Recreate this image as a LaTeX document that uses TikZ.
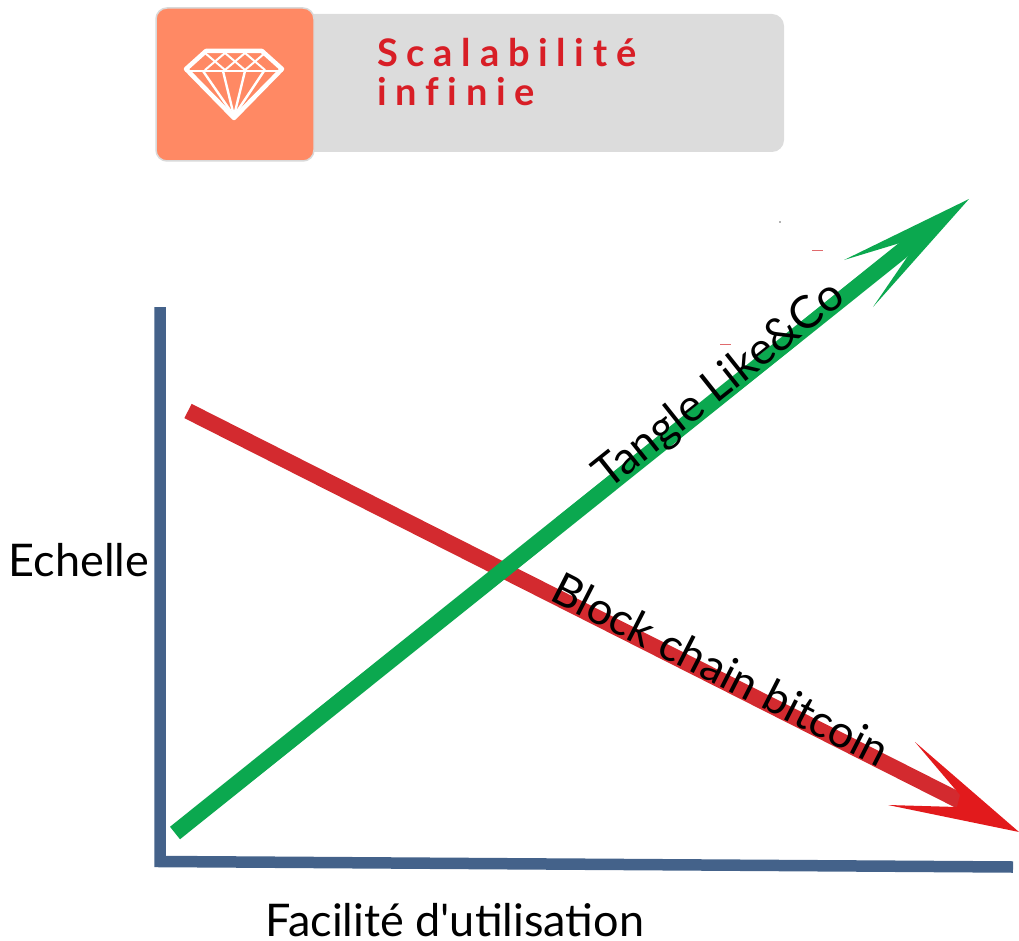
\documentclass[tikz,border=0pt]{standalone}
\usepackage{fontspec}
\newfontfamily\labelfont{Lato}
\newfontfamily\bannerfont[LetterSpace=23,Ligatures=NoCommon]{Lato}
\definecolor{axisblue}{HTML}{44628A}
\definecolor{tanglegreen}{HTML}{0BA84F}
\definecolor{chainred}{HTML}{D32A2F}
\definecolor{headred}{HTML}{E21A1C}
\definecolor{badgeorange}{HTML}{FF8964}
\definecolor{bannergray}{HTML}{DCDCDC}
\definecolor{bannerred}{HTML}{D81E26}

\begin{document}
\begin{tikzpicture}[x=1pt,y=-1pt]
    \tikzstyle{axis}=[draw=axisblue,line width=11.5pt,line join=miter]
    \tikzstyle{shaft}=[line width=16pt]
    \tikzstyle{label}=[inner sep=0pt,font=\labelfont\fontsize{45}{49}\selectfont]
    \tikzstyle{gem}=[draw=white,line width=2.4pt,line join=round,line cap=round]
    \tikzstyle{speck}=[draw=chainred!70,line width=1pt]

    \useasboundingbox (0,0) rectangle (1019,941);

    % Draw the banner and its badge
    \fill[bannergray,rounded corners=12pt] (290,14) rectangle (784,152);
    \node[draw=black!15,line width=1.5pt,fill=badgeorange,rounded corners=11pt,
        minimum width=158pt,minimum height=153pt,inner sep=0pt] (badge) at (235,84.5) {};
    \node[anchor=north west,inner sep=0pt,align=left,text=bannerred,
        font=\bannerfont\bfseries\fontsize{38}{39}\selectfont] (title) at (377,38)
        {Scalabilité\\infinie};

    % Draw the gem on the badge
    \draw[gem,line width=4.5pt] (206,51) -- (262,51) -- (282,69) -- (234,118) -- (186,69) -- cycle;
    \draw[gem] (186,71) -- (282,71);
    \foreach \left / \right in {205/225,225/245,245/265}
    {
        \draw[gem,line width=2pt] (\left,53) -- (\right,70);
        \draw[gem,line width=2pt] (\right,53) -- (\left,70);
    }
    \foreach \x in {203,223,245,264}
        \draw[gem] (\x,71) -- (234,116);

    % Draw the axes
    \coordinate (Y-top) at (160,307);
    \coordinate (origin) at (160,861.5);
    \coordinate (X-end) at (1013,867);
    \draw[axis] (Y-top) -- (origin) -- (X-end);

    % Draw the red line with its head
    \coordinate (R-start) at (188,411);
    \coordinate (R-end) at (962,802);
    \draw[shaft,chainred] (R-start) -- (R-end);
    \fill[headred] (1019,832) -- (915,742) -- (960,795) -- (957,807) -- (888,805) -- cycle;

    % Draw the green line with its head
    \coordinate (G-start) at (175,833);
    \coordinate (G-end) at (908,246);
    \draw[shaft,tanglegreen] (G-start) -- (G-end);
    \fill[tanglegreen] (969,199) -- (873,307) -- (910,253) -- (900,243) -- (844,260) -- cycle;

    % Stray marks above the green line
    \draw[speck] (812,251) -- (823,251);
    \draw[speck] (720,344) -- (731,344);
    \fill[black!60] (780,222) circle (0.8pt);

    % Annotate the lines and the axes
    \node[label,rotate=38.5] (tangle) at (720,386) {Tangle Like\&Co};
    \node[label,rotate=-27] (chain) at (721,669) {Block chain bitcoin};
    \node[label] (echelle) at (79,560) {Echelle};
    \node[label] (facilite) at (455,920) {Facilité d'utilisation};
\end{tikzpicture}
\end{document}
